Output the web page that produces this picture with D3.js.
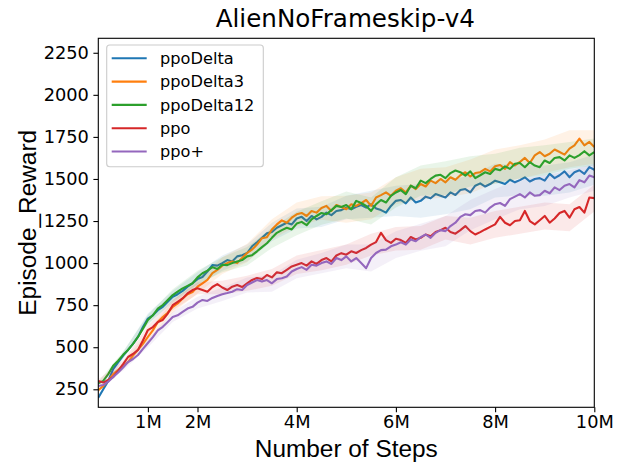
<!DOCTYPE html>
<html>
<head>
<meta charset="utf-8">
<script src="https://cdn.jsdelivr.net/npm/d3@7/dist/d3.min.js"></script>
<style>
  body { margin: 0; background: #fff; }
  text { font-family: "DejaVu Sans", sans-serif; }
</style>
</head>
<body>
<div id="chart"></div>
<script>

// episode reward every 0.1M steps, 0 .. 10M
const stepSize = 1e5;
const seriesNames = ["ppoDelta", "ppoDelta3", "ppoDelta12", "ppo", "ppo+"];
const seriesColors = ["#1f77b4", "#ff7f0e", "#2ca02c", "#d62728", "#9467bd"];

const ppoDelta = [200,250,300,370,410,450,484,520,561,620,670,690,720,740,770,800,815,835,860,880,
  905,917,950,988,985,1000,1018,1010,1040,1047,1060,1100,1124,1150,1177,1185,1210,1225,1240,1230,
  1265,1275,1250,1280,1260,1275,1300,1285,1310,1315,1330,1320,1335,1345,1330,1350,1325,1315,1300,1340,
  1370,1375,1355,1390,1360,1370,1395,1385,1410,1400,1390,1420,1405,1434,1440,1420,1460,1474,1455,1470,
  1490,1481,1470,1495,1480,1493,1510,1485,1500,1505,1490,1530,1505,1522,1545,1510,1540,1552,1530,1570,1555];

const ppoDelta3 = [245,270,300,340,365,390,412,450,484,520,561,600,650,680,705,740,760,790,815,828,
  860,880,900,940,960,985,1000,1010,1000,1030,1060,1080,1110,1148,1154,1200,1230,1254,1240,1270,
  1290,1298,1280,1310,1300,1327,1340,1310,1345,1333,1320,1350,1340,1357,1375,1340,1390,1404,1420,1400,
  1430,1445,1420,1460,1440,1470,1455,1490,1475,1500,1480,1510,1495,1522,1540,1515,1535,1540,1560,1545,
  1575,1583,1560,1600,1580,1601,1625,1595,1640,1660,1635,1650,1675,1660,1645,1680,1700,1740,1700,1720,1690];

const ppoDelta12 = [285,300,340,390,420,455,484,520,561,610,662,690,730,751,780,810,830,850,865,880,
  915,940,955,976,965,990,988,1000,1010,1018,1040,1047,1070,1095,1118,1150,1180,1196,1210,1200,
  1235,1245,1225,1260,1280,1298,1290,1315,1340,1333,1345,1320,1370,1357,1340,1310,1350,1375,1360,1400,
  1420,1434,1410,1460,1445,1490,1475,1500,1520,1525,1505,1535,1550,1540,1520,1545,1505,1522,1540,1530,
  1560,1552,1575,1560,1590,1595,1570,1600,1580,1570,1610,1595,1625,1630,1610,1640,1625,1642,1665,1640,1660];

const ppo = [300,290,305,323,360,400,442,460,484,540,602,620,650,662,700,750,770,790,820,840,
  850,840,830,858,875,855,840,860,870,858,880,900,911,905,929,915,945,940,960,980,
  990,1000,985,1010,995,1018,1030,1010,1045,1059,1050,1070,1060,1077,1090,1110,1125,1180,1137,1120,
  1145,1137,1120,1155,1140,1150,1170,1160,1185,1196,1210,1185,1175,1196,1220,1190,1170,1184,1200,1215,
  1230,1275,1240,1225,1250,1255,1310,1250,1230,1255,1280,1240,1265,1298,1310,1270,1320,1333,1300,1390,1386];

const ppoPlus = [270,275,295,323,350,380,412,430,454,490,525,560,600,621,650,680,690,710,730,740,
  765,781,775,793,805,815,822,830,845,840,870,885,899,890,899,880,905,910,920,950,
  965,976,960,990,985,1000,1010,995,1030,1018,1040,1010,1030,1000,970,1030,1060,1077,1080,1100,
  1110,1124,1110,1140,1130,1154,1170,1150,1180,1196,1190,1220,1240,1275,1290,1285,1310,1315,1300,1330,
  1350,1357,1340,1380,1395,1410,1390,1420,1400,1404,1430,1415,1450,1434,1460,1470,1450,1493,1480,1520,1510];

// half width of the shaded band, every 0.5M steps
const bandStep = 5e5;
const ppoDeltaSpread   = [10,20,30,35,40,45,50,55,60,60,70,80,90,100,100,100,100,90,90,90,90];
const ppoDelta3Spread  = [10,20,30,35,40,50,55,60,70,70,80,80,80,90,90,100,100,100,100,110,100];
const ppoDelta12Spread = [10,20,30,35,40,45,55,60,70,70,80,80,90,90,100,90,90,90,90,80,80];
const ppoSpread        = [10,20,25,30,35,40,45,50,55,60,60,65,70,70,70,80,80,80,80,80,80];
const ppoPlusSpread    = [10,20,25,30,35,40,45,50,55,60,70,80,80,80,90,90,90,90,90,80,80];

const xTicks = [1e6, 2e6, 4e6, 6e6, 8e6, 10e6];
const yTicks = [250, 500, 750, 1000, 1250, 1500, 1750, 2000, 2250];

const allSeries = [ppoDelta, ppoDelta3, ppoDelta12, ppo, ppoPlus];
const allSpreads = [ppoDeltaSpread, ppoDelta3Spread, ppoDelta12Spread, ppoSpread, ppoPlusSpread];

var width = 624;
var height = 474;
var margin = ({top: 38.3, right: 29.7, bottom: 66.7, left: 98.3});

var svg = d3.select("#chart")
  .append("svg")
    .attr("width", width)
    .attr("height", height);

var xScale = d3.scaleLinear()
  .domain([0, 10e6])
  .range([margin.left, width - margin.right]);

var yScale = d3.scaleLinear()
  .domain([143, 2336])
  .range([height - margin.bottom, margin.top]);

var plot = svg.append("g");

plot.append("clipPath").attr("id", "clip")
  .append("rect")
    .attr("x", margin.left).attr("y", margin.top)
    .attr("width", width - margin.left - margin.right)
    .attr("height", height - margin.top - margin.bottom);

var layer = plot.append("g").attr("clip-path", "url(#clip)");

allSeries.forEach(function(values, k) {
    let band = allSpreads[k].map((s, i) => [i * bandStep, values[i * 5], s]);

    layer.append("path")
        .datum(band)
        .attr("fill", seriesColors[k])
        .attr("fill-opacity", 0.1)
        .attr("stroke", "none")
        .attr("d", d3.area()
            .x(d => xScale(d[0]))
            .y0(d => yScale(d[1] - d[2]))
            .y1(d => yScale(d[1] + d[2])));

    layer.append("path")
        .datum(values)
        .attr("fill", "none")
        .attr("stroke", seriesColors[k])
        .attr("stroke-width", 2.1)
        .attr("stroke-linejoin", "round")
        .attr("d", d3.line()
            .x((d, i) => xScale(i * stepSize))
            .y(d => yScale(d)));
});

// frame
svg.append("rect")
    .attr("x", margin.left).attr("y", margin.top)
    .attr("width", width - margin.left - margin.right)
    .attr("height", height - margin.top - margin.bottom)
    .attr("fill", "none")
    .attr("stroke", "#000")
    .attr("stroke-width", 1.1);

var xAxis = svg.append("g")
    .attr("transform", `translate(0,${height - margin.bottom})`)
    .call(d3.axisBottom(xScale).tickValues(xTicks)
        .tickFormat(d => (d / 1e6) + "M")
        .tickSize(4.9).tickPadding(3.5));

var yAxis = svg.append("g")
    .attr("transform", `translate(${margin.left},0)`)
    .call(d3.axisLeft(yScale).tickValues(yTicks)
        .tickFormat(d3.format("d"))
        .tickSize(4.9).tickPadding(4.5));

[xAxis, yAxis].forEach(function(a) {
    a.select(".domain").remove();
    a.selectAll(".tick line").attr("stroke", "#000").attr("stroke-width", 1.1);
    a.selectAll(".tick text")
        .attr("fill", "#000")
        .style("font-family", "DejaVu Sans")
        .style("font-size", "17.8px");
});

svg.append("text")
    .attr("text-anchor", "middle")
    .attr("x", (margin.left + width - margin.right) / 2 - 1)
    .attr("y", 27)
    .style("font-size", "24.6px")
    .text("AlienNoFrameskip-v4");

svg.append("text")
    .attr("text-anchor", "middle")
    .attr("x", (margin.left + width - margin.right) / 2)
    .attr("y", 457)
    .style("font-family", "Liberation Sans")
    .style("font-size", "24.4px")
    .text("Number of Steps");

svg.append("text")
    .attr("text-anchor", "middle")
    .attr("transform", `translate(36,${(margin.top + height - margin.bottom) / 2}) rotate(-90)`)
    .style("font-family", "Liberation Sans")
    .style("font-size", "24.4px")
    .text("Episode_Reward");

// legend
var legend = svg.append("g");

legend.append("rect")
    .attr("x", 106.7).attr("y", 45)
    .attr("width", 156.6).attr("height", 121.7)
    .attr("rx", 3)
    .attr("fill", "#fff").attr("fill-opacity", 0.8)
    .attr("stroke", "#cccccc").attr("stroke-width", 1.1);

seriesNames.forEach(function(name, k) {
    let cy = 58.3 + k * 23.3;
    legend.append("line")
        .attr("x1", 111.7).attr("x2", 146.7)
        .attr("y1", cy).attr("y2", cy)
        .attr("stroke", seriesColors[k])
        .attr("stroke-width", 2.1);
    legend.append("text")
        .attr("x", 160)
        .attr("y", cy + 5.8)
        .style("font-size", "16.2px")
        .text(name);
});

</script>
</body>
</html>
